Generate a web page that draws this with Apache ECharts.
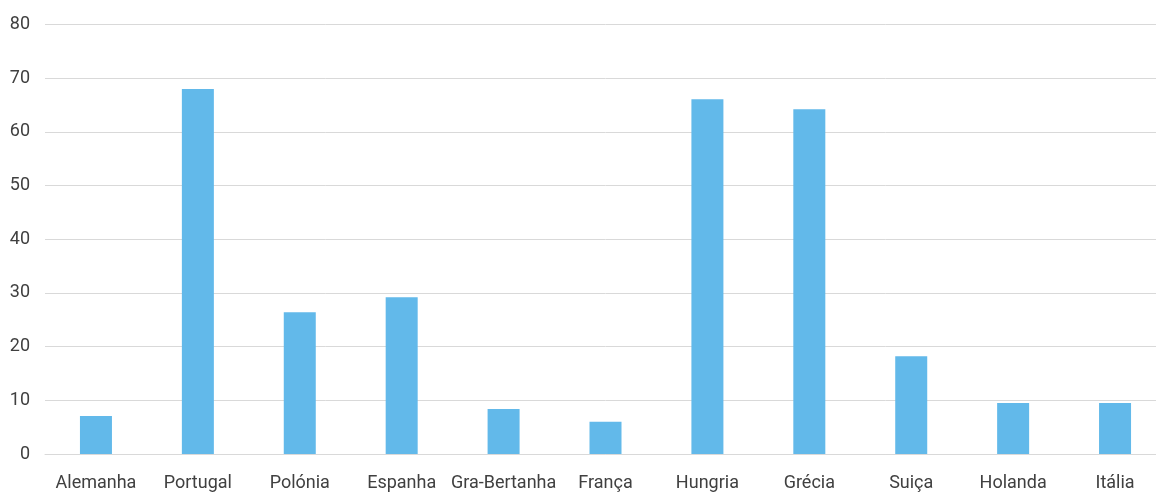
<!DOCTYPE html>
<html>
<head>
<meta charset="utf-8">
<script src="https://cdn.jsdelivr.net/npm/echarts@6/dist/echarts.min.js"></script>
<style>
html,body{margin:0;padding:0;background:#fff;overflow:hidden;}
#chart{width:1166px;height:493px;}
</style>
</head>
<body>
<div id="chart"></div>
<script>
const countries = ['Alemanha','Portugal','Polónia','Espanha','Gra-Bertanha','França','Hungria','Grécia','Suiça','Holanda','Itália'];
const values = [7.1, 68.0, 26.4, 29.2, 8.4, 6.0, 66.1, 64.2, 18.2, 9.5, 9.5];
const yTicks = [0, 10, 20, 30, 40, 50, 60, 70, 80];

const chart = echarts.init(document.getElementById('chart'), null, {renderer: 'canvas'});
chart.setOption({
  animation: false,
  grid: {left: 45, top: 24.5, right: 0, bottom: 39, containLabel: false},
  xAxis: {
    type: 'category',
    data: countries,
    axisLine: {show: true, lineStyle: {color: '#d9d9d9', width: 1}},
    axisTick: {show: false},
    axisLabel: {interval: 0, color: '#404040', fontFamily: 'Roboto', fontSize: 18, margin: 20}
  },
  yAxis: {
    type: 'value',
    min: yTicks[0],
    max: yTicks[yTicks.length - 1],
    interval: 10,
    axisLine: {show: false},
    axisTick: {show: false},
    splitLine: {lineStyle: {color: '#d9d9d9', width: 1}},
    axisLabel: {color: '#404040', fontFamily: 'Roboto', fontSize: 18, margin: 15}
  },
  series: [{
    type: 'bar',
    data: values,
    barWidth: 32,
    itemStyle: {color: '#62b9ea'}
  }]
});
</script>
</body>
</html>
